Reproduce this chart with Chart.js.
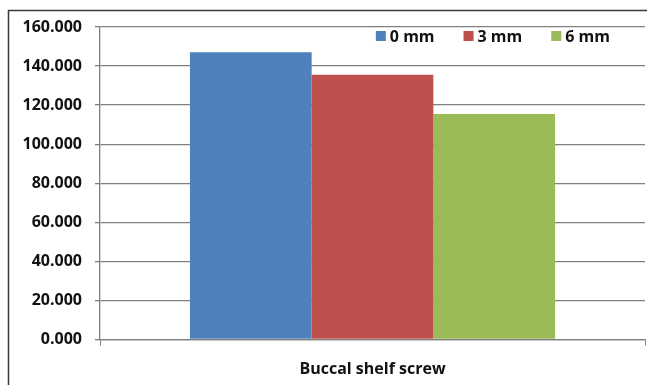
<!DOCTYPE html>
<html>
<head>
<meta charset="utf-8">
<script src="https://cdn.jsdelivr.net/npm/chart.js@4"></script>
<style>
  html, body { margin: 0; padding: 0; background: #fff; }
  #wrap { width: 647px; height: 385px; position: relative; }
</style>
</head>
<body>
<div id="wrap"><canvas id="c" width="647" height="385"></canvas></div>
<script>
// Data
const categories = ['Buccal shelf screw'];
const seriesNames = ['0 mm', '3 mm', '6 mm'];
const values0mm = [147.1];
const values3mm = [135.6];
const values6mm = [115.4];
const seriesColors = ['#4F81BD', '#C0504D', '#9BBB59'];

const FONT = '"Open Sans", "DejaVu Sans", sans-serif';

// Outer frame (left and top edges) drawn behind the chart
const framePlugin = {
  id: 'frame',
  beforeDraw(chart) {
    const ctx = chart.ctx;
    ctx.save();
    ctx.strokeStyle = '#3a3a3a';
    ctx.lineWidth = 1.5;
    ctx.beginPath();
    ctx.moveTo(8.5, chart.height);
    ctx.lineTo(8.5, 10.5);
    ctx.lineTo(chart.width, 10.5);
    ctx.stroke();
    ctx.restore();
  }
};

// Legend drawn inside the plot area, near the top-right corner
const insideLegend = {
  id: 'insideLegend',
  afterDraw(chart) {
    const ctx = chart.ctx;
    const area = chart.chartArea;
    const box = 10, boxGap = 4, itemGap = 29;
    ctx.save();
    ctx.font = 'bold 16px ' + FONT;
    ctx.textBaseline = 'middle';
    const items = chart.data.datasets.map(ds => ({
      label: ds.label, color: ds.backgroundColor,
      w: box + boxGap + ctx.measureText(ds.label).width
    }));
    const total = items.reduce((s, it) => s + it.w, 0) + itemGap * (items.length - 1);
    let x = area.right - 35 - total;
    const y = area.top + 9;
    items.forEach(it => {
      ctx.fillStyle = it.color;
      ctx.fillRect(x, y - box / 2, box, box);
      ctx.fillStyle = '#111';
      ctx.fillText(it.label, x + box + boxGap, y + 1);
      x += it.w + itemGap;
    });
    ctx.restore();
  }
};

new Chart(document.getElementById('c'), {
  type: 'bar',
  data: {
    labels: categories,
    datasets: [
      { label: seriesNames[0], data: values0mm, backgroundColor: seriesColors[0] },
      { label: seriesNames[1], data: values3mm, backgroundColor: seriesColors[1] },
      { label: seriesNames[2], data: values6mm, backgroundColor: seriesColors[2] }
    ]
  },
  options: {
    responsive: false,
    animation: false,
    events: [],
    layout: { padding: { left: 10, right: 2, top: 27, bottom: 0 } },
    datasets: { bar: { categoryPercentage: 0.67, barPercentage: 1.0 } },
    plugins: { legend: { display: false }, tooltip: { enabled: false } },
    scales: {
      x: {
        grid: { display: true, drawOnChartArea: false, drawTicks: true, tickLength: 6, color: '#808080', offset: true },
        border: { display: true, color: '#808080', width: 1.3 },
        ticks: { color: '#111', padding: 14, font: { family: FONT, size: 16, weight: 'bold' } },
        afterFit(scale) { scale.height = 45.5; }
      },
      y: {
        min: 0, max: 160,
        ticks: {
          stepSize: 20, color: '#111', padding: 13,
          font: { family: FONT, size: 16, weight: 'bold' },
          callback: v => v.toFixed(3)
        },
        grid: { color: '#808080', lineWidth: 1.3, tickLength: 5 },
        border: { display: true, color: '#808080', width: 1.3 },
        afterFit(scale) { scale.width = 90; }
      }
    }
  },
  plugins: [framePlugin, insideLegend]
});
</script>
</body>
</html>
